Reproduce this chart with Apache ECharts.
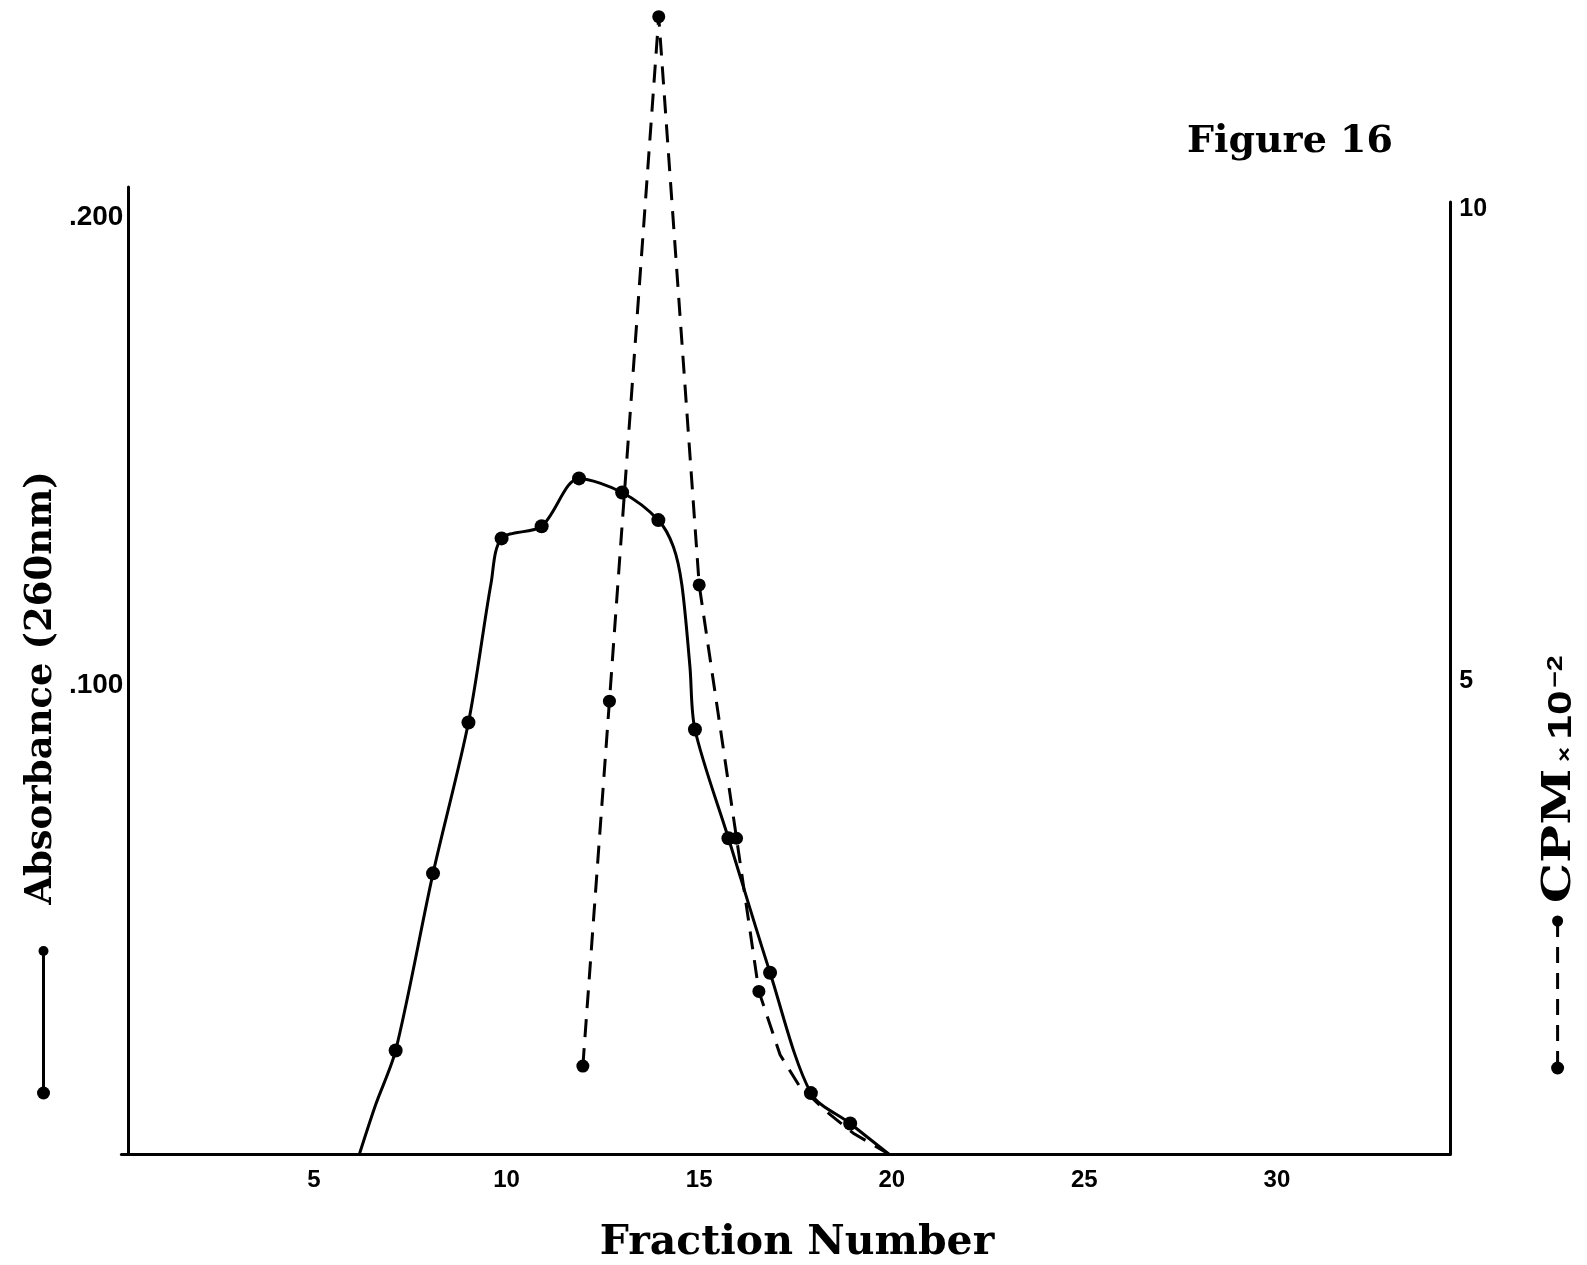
<!DOCTYPE html>
<html>
<head>
<meta charset="utf-8">
<script src="https://cdn.jsdelivr.net/npm/echarts@6/dist/echarts.min.js"></script>
<style>
  html, body { margin: 0; padding: 0; background: #fff; }
  #chart { width: 1587px; height: 1265px; }
</style>
</head>
<body>
<div id="chart"></div>
<script>
// Absorbance at 260 nm, measured fractions (dots)
const absFractions = [7.12, 8.09, 9.01, 9.87, 10.91, 11.88, 13.0, 13.94, 14.89, 15.76, 16.84, 17.9, 18.92];
const absValues    = [0.0221, 0.0599, 0.0921, 0.1314, 0.134, 0.1442, 0.1412, 0.1353, 0.0906, 0.0674, 0.0387, 0.0130, 0.0065];
// Points along the hand-drawn absorbance curve between the dots
const absTraceFractions = [6.18, 6.6, 9.6, 14.33, 14.55, 14.76, 19.92];
const absTraceValues    = [0, 0.0105, 0.1220, 0.1296, 0.1215, 0.1040, 0];

// Radioactivity (CPM x 10^-2), measured fractions (dots)
const cpmFractions = [11.98, 12.67, 13.95, 15.0, 15.97, 16.55];
const cpmValues    = [0.93, 4.79, 12.03, 6.02, 3.34, 1.72];
// Points along the dashed curve's tail
const cpmTraceFractions = [17.1, 17.6, 18.3, 19.0, 19.92];
const cpmTraceValues    = [1.05, 0.72, 0.45, 0.22, 0];

function pairs(xs, ys) { return xs.map((x, i) => [x, ys[i]]); }
function curve(xs, ys, txs, tys) {
  return pairs(xs, ys).concat(pairs(txs, tys)).sort((a, b) => a[0] - b[0]);
}

const INK = '#000';
const SERIF = '"DejaVu Serif", "Liberation Serif", serif';
const SANS = '"Liberation Sans", Arial, sans-serif';

const chart = echarts.init(document.getElementById('chart'), null, { renderer: 'canvas' });

chart.setOption({
  animation: false,
  backgroundColor: '#fff',
  grid: [
    { left: 121.4, right: 136.7, top: 187, bottom: 111 },
    { left: 121.4, right: 136.7, top: 202, bottom: 111 }
  ],
  xAxis: [
    {
      gridIndex: 0, type: 'value', min: 0, max: 34.5, interval: 5,
      axisLine: { show: true, lineStyle: { color: INK, width: 3 } },
      axisTick: { show: false },
      splitLine: { show: false },
      axisLabel: {
        color: INK, fontFamily: SANS, fontWeight: 'bold', fontSize: 24, margin: 14,
        formatter: v => (v > 0 && v % 5 === 0) ? String(v) : ''
      }
    },
    {
      gridIndex: 1, type: 'value', min: 0, max: 34.5, show: false
    }
  ],
  yAxis: [
    {
      gridIndex: 0, type: 'value', min: 0, max: 0.2064, interval: 0.1, offset: -7,
      axisLine: { show: true, lineStyle: { color: INK, width: 3 } },
      axisTick: { show: false },
      splitLine: { show: false },
      axisLabel: {
        color: INK, fontFamily: SANS, fontWeight: 'bold', fontSize: 28, margin: 5,
        formatter: v => {
          if (Math.abs(v - 0.1) < 1e-6) return '.100';
          if (Math.abs(v - 0.2) < 1e-6) return '.200';
          return '';
        }
      }
    },
    {
      gridIndex: 1, type: 'value', position: 'right', min: 0, max: 10.07, interval: 5,
      axisLine: { show: true, onZero: false, lineStyle: { color: INK, width: 3 } },
      axisTick: { show: false },
      splitLine: { show: false },
      axisLabel: {
        color: INK, fontFamily: SANS, fontWeight: 'bold', fontSize: 25, margin: 9,
        formatter: v => (v === 5 || v === 10) ? String(v) : ''
      }
    }
  ],
  series: [
    {
      name: 'Absorbance', type: 'line', xAxisIndex: 0, yAxisIndex: 0,
      data: curve(absFractions, absValues, absTraceFractions, absTraceValues),
      showSymbol: false, smooth: 0.3,
      lineStyle: { color: INK, width: 3 }, z: 3
    },
    {
      name: 'Absorbance points', type: 'scatter', xAxisIndex: 0, yAxisIndex: 0,
      data: pairs(absFractions, absValues),
      symbol: 'circle', symbolSize: 14, itemStyle: { color: INK, opacity: 1 }, z: 4
    },
    {
      name: 'CPM', type: 'line', xAxisIndex: 1, yAxisIndex: 1,
      data: curve(cpmFractions, cpmValues, cpmTraceFractions, cpmTraceValues),
      showSymbol: false, smooth: false, clip: false,
      lineStyle: { color: INK, width: 3, type: [18, 11] }, z: 3
    },
    {
      name: 'CPM points', type: 'scatter', xAxisIndex: 1, yAxisIndex: 1,
      data: pairs(cpmFractions, cpmValues), clip: false,
      symbol: 'circle', symbolSize: 13, itemStyle: { color: INK, opacity: 1 }, z: 4
    }
  ],
  graphic: [
    // figure label
    {
      type: 'text', left: 1187, top: 123,
      style: { text: 'Figure 16', fill: INK, font: 'bold 38px ' + SERIF }
    },
    // x axis title
    {
      type: 'text', x: 797, y: 1243,
      style: { text: 'Fraction Number', fill: INK, font: 'bold 41px ' + SERIF, align: 'center', verticalAlign: 'middle' }
    },
    // left axis title
    {
      type: 'text', x: 41, y: 688, rotation: Math.PI / 2,
      style: { text: 'Absorbance (260nm)', fill: INK, font: 'bold 37px ' + SERIF, align: 'center', verticalAlign: 'middle' }
    },
    // left key: solid line with dots
    {
      type: 'line', shape: { x1: 43.5, y1: 951, x2: 43.5, y2: 1093 },
      style: { stroke: INK, lineWidth: 3 }
    },
    { type: 'circle', shape: { cx: 43.5, cy: 951, r: 5 }, style: { fill: INK } },
    { type: 'circle', shape: { cx: 43.5, cy: 1093, r: 6.5 }, style: { fill: INK } },
    // right axis title: "CPM" in wide serif capitals
    {
      type: 'text', x: 1560, y: 836, rotation: Math.PI / 2, scaleX: 1.3,
      style: { text: 'CPM', fill: INK, font: 'bold 39px ' + SERIF, align: 'center', verticalAlign: 'middle' }
    },
    // right axis title: "× 10^-2"
    {
      type: 'text', x: 1562, y: 762, rotation: Math.PI / 2, scaleX: 1.3,
      style: {
        text: '{b|× }{c|10}{d|−2}',
        align: 'left', verticalAlign: 'middle',
        rich: {
          b: { font: 'bold 20px ' + SANS, fill: INK, verticalAlign: 'bottom', padding: [0, 0, 4, 0] },
          c: { font: 'bold 34px ' + SANS, fill: INK, verticalAlign: 'bottom' },
          d: { font: 'bold 22px ' + SANS, fill: INK, verticalAlign: 'top', padding: [0, 0, 0, 2] }
        }
      }
    },
    // right key: dashed line with dots
    {
      type: 'line', shape: { x1: 1557.6, y1: 921, x2: 1557.6, y2: 1068 },
      style: { stroke: INK, lineWidth: 3, lineDash: [16, 10] }
    },
    { type: 'circle', shape: { cx: 1557.6, cy: 921, r: 5.5 }, style: { fill: INK } },
    { type: 'circle', shape: { cx: 1557.6, cy: 1068, r: 6.5 }, style: { fill: INK } }
  ]
});
</script>
</body>
</html>
